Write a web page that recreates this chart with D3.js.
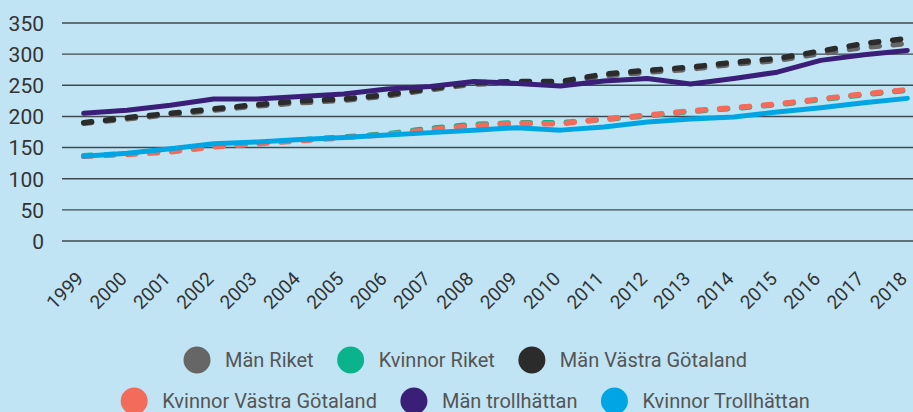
<!DOCTYPE html>
<html>
<head>
<meta charset="utf-8">
<script src="https://cdn.jsdelivr.net/npm/d3@7"></script>
<style>
html,body{margin:0;padding:0;background:#c1e4f4;}
svg{display:block;font-family:Roboto,"Noto Sans",sans-serif;}
</style>
</head>
<body>
<svg id="chart" width="913" height="412"></svg>
<script>
const years = ["1999","2000","2001","2002","2003","2004","2005","2006","2007","2008","2009","2010","2011","2012","2013","2014","2015","2016","2017","2018"];
const yTicks = [0,50,100,150,200,250,300,350];

const manRiket   = [189,196,203,210,217,222,226,233,243,252,254,254,265,271,276,284,290,301,311,317];
const kvRiket    = [137,140,144,152,157,162,167,172,181,187,190,190,195,201,208,213,219,227,235,242];
const manVG      = [190,198,205,212,219,225,228,235,245,254,256,256,268,274,279,287,293,305,317,325];
const kvVG       = [136,139,143,151,156,161,166,171,179,185,189,188,196,202,209,214,220,228,236,243];
const manTroll   = [205,210,218,228,228,232,236,244,248,256,253,249,257,261,252,261,271,290,299,306];
const kvTroll    = [136,141,148,156,159,163,166,170,174,178,182,178,183,191,196,199,207,214,222,229];

const seriesNames  = ["Män Riket","Kvinnor Riket","Män Västra Götaland","Kvinnor Västra Götaland","Män trollhättan","Kvinnor Trollhättan"];
const seriesValues = [manRiket,kvRiket,manVG,kvVG,manTroll,kvTroll];
const seriesColors = ["#666666","#0bb38c","#2b2b2b","#f26b5b","#3a1f78","#00a6e4"];
const seriesDashed = [true,true,true,true,false,false];

const svg = d3.select("#chart");
const left = 62, step = 43.35;
const x = d3.scaleBand().domain(years).range([left, left + step*years.length]).padding(0);
const y = d3.scaleLinear().domain([0,350]).range([241,23]);
const cx = d => x(d) + x.bandwidth()/2;

// gridlines
svg.append("g").selectAll("line").data(yTicks).join("line")
  .attr("x1", left).attr("x2", 913)
  .attr("y1", d => y(d)).attr("y2", d => y(d))
  .attr("stroke", "#3f4a50").attr("stroke-width", 1.4);

// y axis labels
const yAxis = d3.axisLeft(y).tickValues(yTicks).tickSize(0).tickPadding(0);
const gy = svg.append("g").attr("transform","translate(44,0)").call(yAxis);
gy.select(".domain").remove();
gy.selectAll("text").attr("font-size", 21).attr("fill","#333").attr("font-family","Roboto, sans-serif").attr("dy","0.35em");

// x axis labels
const xAxis = d3.axisBottom(x).tickSize(0).tickPadding(0);
const gx = svg.append("g").attr("transform","translate(0,0)").call(xAxis);
gx.select(".domain").remove();
gx.selectAll(".tick").attr("transform", d => `translate(${cx(d)+1},280)`);
gx.selectAll("text")
  .attr("font-size", 19).attr("fill","#333").attr("font-family","Roboto, sans-serif")
  .attr("y",0).attr("dy","0").attr("text-anchor","end")
  .attr("transform","rotate(-45)");

// lines
const line = d3.line().x((d,i) => cx(years[i])).y(d => y(d)).curve(d3.curveLinear);
const lg = svg.append("g");
seriesValues.forEach((vals,i) => {
  lg.append("path").datum(vals)
    .attr("d", line)
    .attr("fill","none")
    .attr("stroke", seriesColors[i])
    .attr("stroke-width", seriesDashed[i] ? 5.5 : 5)
    .attr("stroke-linecap", "round")
    .attr("stroke-linejoin", "round")
    .attr("stroke-dasharray", seriesDashed[i] ? "8,14" : null);
});

// legend
const rows = [[0,1,2],[3,4,5]];
const rowY = [360, 401];
const centerX = 465;
rows.forEach((row, ri) => {
  const g = svg.append("g");
  let pos = 0;
  row.forEach((si, k) => {
    const item = g.append("g").attr("transform", `translate(${pos},0)`);
    item.append("ellipse").attr("cx", 14).attr("cy", rowY[ri]).attr("rx", 13.5).attr("ry", 13.5).attr("fill", seriesColors[si]);
    const t = item.append("text").attr("x", 42).attr("y", rowY[ri]).attr("dy","0.35em")
      .attr("font-size", 20).attr("fill","#555").text(seriesNames[si]);
    const w = t.node().getComputedTextLength();
    pos += 42 + w + 23;
  });
  const total = pos - 23;
  g.attr("transform", `translate(${centerX - total/2},0)`);
});
</script>
</body>
</html>
